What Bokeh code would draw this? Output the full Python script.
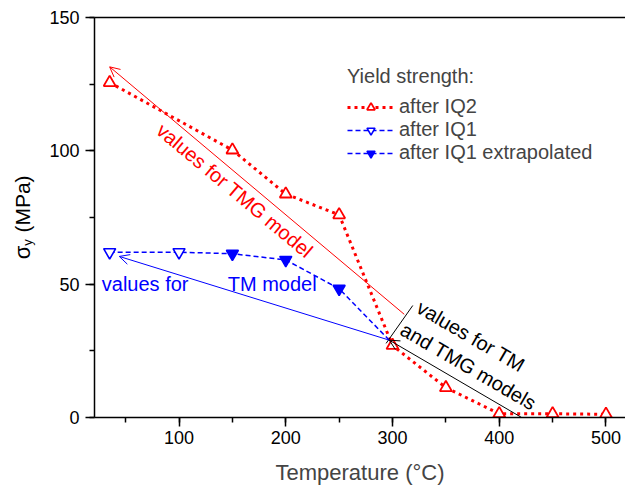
import math
from bokeh.plotting import figure
from bokeh.layouts import row
from bokeh.models import (Label, Arrow, OpenHead, Legend, LegendItem,
                          SingleIntervalTicker, LinearAxis, FixedTicker, Range1d)
from bokeh.core.properties import value
from bokeh.embed import file_html
from bokeh.resources import INLINE

# ---- data ----
iq2_T = [35, 150, 200, 250, 300, 350, 400, 450, 500]
iq2_y = [125.6, 100.3, 83.8, 76.0, 27.0, 11.2, 1.4, 1.4, 1.2]

iq1_T = [35, 100]
iq1_y = [62.0, 62.0]

ext_T = [150, 200, 250]
ext_y = [61.4, 59.1, 48.3]

junction_T = 297
junction_y = 29.0

x_ticks_interval = 100
y_ticks_interval = 50

# model annotation lines (start -> arrow tip)
tmg_arrow_T = [311, 35]
tmg_arrow_y = [38.7, 131.5]
tm_arrow_T = [junction_T, 44]
tm_arrow_y = [junction_y, 60.4]
both_arrow_T = [421, junction_T]
both_arrow_y = [0.0, junction_y]
bracket_T = [294, 319]
bracket_y = [27.8, 42.0]

y_title_parts = ["σ", "y", "(MPa)"]

FONT = "Liberation Sans"
RED = "#FF0000"
BLUE = "#0000FF"
H = 487
YLAB_W = 46
FRAME_TOP = 17
FRAME_BOTTOM = 417

p = figure(width=625 - YLAB_W, height=H, x_range=Range1d(20.8, 518.3), y_range=Range1d(0, 150),
           output_backend="svg", toolbar_location=None,
           min_border_left=91 - YLAB_W, min_border_right=0,
           min_border_top=FRAME_TOP, min_border_bottom=H - FRAME_BOTTOM)
p.outline_line_color = None
p.grid.visible = False

for ax in (p.xaxis[0], p.yaxis[0]):
    ax.axis_line_width = 1.5
    ax.major_tick_line_width = 1.5
    ax.minor_tick_line_width = 1.5
    ax.major_tick_in = 0
    ax.major_tick_out = 9
    ax.minor_tick_in = 0
    ax.minor_tick_out = 5
    ax.major_label_text_font = FONT
    ax.major_label_text_font_size = "18px"
    ax.major_label_text_color = "black"

p.xaxis.ticker = SingleIntervalTicker(interval=x_ticks_interval, num_minor_ticks=2)
p.yaxis.ticker = SingleIntervalTicker(interval=y_ticks_interval, num_minor_ticks=2)
p.xaxis.major_label_standoff = 4
p.yaxis.major_label_standoff = 6
p.xaxis.axis_label = "Temperature (°C)"
p.xaxis.axis_label_text_font = FONT
p.xaxis.axis_label_text_font_size = "22px"
p.xaxis.axis_label_text_font_style = "normal"
p.xaxis.axis_label_standoff = 13

top = LinearAxis(ticker=FixedTicker(ticks=[]), axis_line_width=1.5,
                 major_tick_out=0, major_tick_in=0, minor_tick_out=0, minor_tick_in=0,
                 major_label_text_font_size="0px", major_label_standoff=0)
p.add_layout(top, "above")

# ---- series ----
iq2_line = p.line(iq2_T, iq2_y, line_color=RED, line_width=3, line_dash="3 4")
iq2_pts = p.scatter(iq2_T, iq2_y, marker="triangle", size=12, line_color=RED,
                    line_width=1.8, fill_color="white")

blue_T = iq1_T + ext_T + [junction_T]
blue_y = iq1_y + ext_y + [junction_y]
iq1_line = p.line(blue_T, blue_y, line_color=BLUE, line_width=1.5, line_dash="5 3")
iq1_pts = p.scatter(iq1_T, iq1_y, marker="inverted_triangle", size=12, line_color=BLUE,
                    line_width=1.6, fill_color="white")
ext_pts = p.scatter(ext_T, ext_y, marker="inverted_triangle", size=12, line_color=BLUE,
                    line_width=1.6, fill_color=BLUE)

# ---- model arrows ----
def arrow(T, y, color):
    p.add_layout(Arrow(end=OpenHead(size=10, line_color=color, line_width=1),
                       x_start=T[0], y_start=y[0], x_end=T[1], y_end=y[1],
                       line_color=color, line_width=1))

arrow(tmg_arrow_T, tmg_arrow_y, RED)
arrow(tm_arrow_T, tm_arrow_y, BLUE)
arrow(both_arrow_T, both_arrow_y, "black")
p.line(bracket_T, bracket_y, line_color="black", line_width=1)

# ---- annotation texts ----
def lab(x, y, text, color, angle=0, align="left", baseline="middle", size="20px"):
    p.add_layout(Label(x=x, y=y, text=text, text_color=color, angle=angle,
                       angle_units="deg", text_font=FONT, text_font_size=size,
                       text_align=align, text_baseline=baseline))

lab(152.2, 85.1, "values for TMG model", RED, angle=-40, align="center")
lab(27.6, 50.2, "values for", BLUE)
lab(145.6, 50.2, "TM model", BLUE)
lab(324.4, 41.9, "values for TM", "black", angle=-30.2)
lab(309.2, 33.6, "and TMG models", "black", angle=-30.2)

# ---- legend ----
legend = Legend(items=[
    LegendItem(label="after IQ2", renderers=[iq2_line, iq2_pts]),
    LegendItem(label="after IQ1", renderers=[iq1_line, iq1_pts]),
    LegendItem(label="after IQ1 extrapolated", renderers=[iq1_line, ext_pts]),
], title="Yield strength:", location=(253, 253))
legend.title_text_font = FONT
legend.title_text_font_size = "20px"
legend.title_text_font_style = "normal"
legend.title_standoff = 7
legend.label_text_font = FONT
legend.label_text_font_size = "20px"
legend.glyph_width = 47
legend.glyph_height = 20
legend.label_standoff = 5
legend.spacing = 0
legend.padding = 5
legend.margin = 0
legend.border_line_color = None
legend.background_fill_alpha = 0
p.add_layout(legend)

# ---- y-axis title (sigma with subscript y) in a narrow side panel ----
# the side panel's frame is aligned with the main frame, so its range is set in
# page pixels (measured from the bottom of the page)
ylab = figure(width=YLAB_W, height=H, x_range=Range1d(0, YLAB_W),
              y_range=Range1d(H - FRAME_BOTTOM, H - FRAME_TOP),
              output_backend="svg", toolbar_location=None, min_border=0,
              min_border_top=FRAME_TOP, min_border_bottom=H - FRAME_BOTTOM)
ylab.outline_line_color = None
ylab.axis.visible = False
ylab.grid.visible = False
for txt, xs, ys, fs in [(y_title_parts[0], 22, H - 252.0, "22px"),
                        (y_title_parts[1], 27, H - 242.0, "13px"),
                        (y_title_parts[2], 22, H - 203.5, "21px")]:
    ylab.text(x=[xs], y=[ys], text=[txt], angle=math.pi / 2,
              text_font=value(FONT), text_font_size=fs, text_align="center",
              text_baseline="middle", text_color="black")

layout = row(ylab, p, spacing=0)
open("out.html", "w").write(file_html(layout, INLINE))
